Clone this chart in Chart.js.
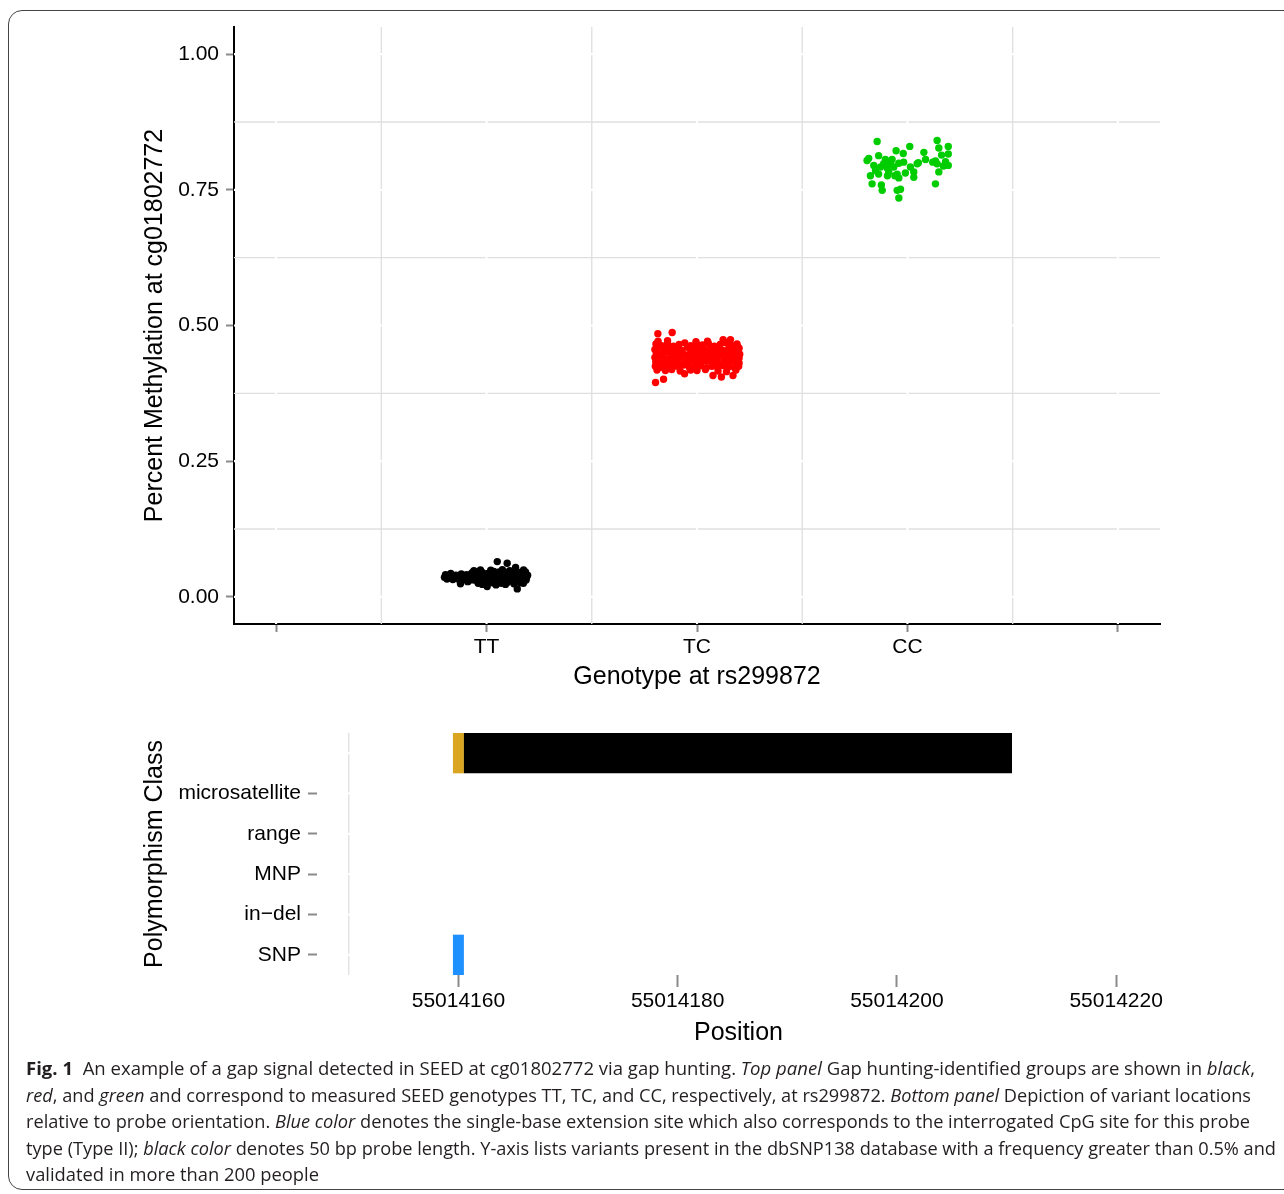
<!DOCTYPE html>
<html>
<head>
<meta charset="utf-8">
<script src="https://cdn.jsdelivr.net/npm/chart.js@4.4.1/dist/chart.umd.min.js"></script>
<style>
html,body{margin:0;padding:0;background:#fff;width:1284px;height:1194px;overflow:hidden;position:relative}
#frame{position:absolute;left:8px;top:10px;width:1320px;height:1180px;border:1px solid #444;border-radius:14px;box-sizing:border-box}
#top{position:absolute;left:0;top:0}
#bottom{position:absolute;left:0;top:700px}
#caption{position:absolute;left:26px;top:1055px;font-family:'Open Sans','Noto Sans',sans-serif;font-size:18.5px;line-height:26.5px;color:#231f20}
#caption .ln{white-space:nowrap;transform-origin:0 50%;display:block;width:max-content}
#caption b{font-weight:700}
</style>
</head>
<body>
<div id="frame"></div>
<canvas id="top" width="1284" height="700"></canvas>
<canvas id="bottom" width="1284" height="360"></canvas>
<div id="caption">
<div class="ln" data-w="1229"><b>Fig. 1</b>&nbsp;&nbsp;An example of a gap signal detected in SEED at cg01802772 via gap hunting. <i>Top panel</i> Gap hunting-identified groups are shown in <i>black</i>,</div>
<div class="ln" data-w="1225"><i>red</i>, and <i>green</i> and correspond to measured SEED genotypes TT, TC, and CC, respectively, at rs299872. <i>Bottom panel</i> Depiction of variant locations</div>
<div class="ln" data-w="1224">relative to probe orientation. <i>Blue color</i> denotes the single-base extension site which also corresponds to the interrogated CpG site for this probe</div>
<div class="ln" data-w="1250">type (Type II); <i>black color</i> denotes 50 bp probe length. Y-axis lists variants present in the dbSNP138 database with a frequency greater than 0.5% and</div>
<div class="ln" data-w="293">validated in more than 200 people</div>
</div>
<script>
// ---------------- DATA ----------------
const xCategories = ['', 'TT', 'TC', 'CC', ''];
const yTickValues = [0, 0.25, 0.5, 0.75, 1];

// TT group (black), x = TT index + jitter
const ttJitter = [
 -0.195,-0.17,-0.145,-0.12,-0.095,-0.07,-0.045,-0.02,0.005,0.03,0.055,0.08,0.105,0.13,0.155,0.18,0.195,
 -0.2,-0.178,-0.155,-0.13,-0.108,-0.083,-0.058,-0.033,-0.008,0.017,0.042,0.067,0.092,0.117,0.142,0.167,0.19,
 -0.188,-0.16,-0.135,-0.11,-0.085,-0.06,-0.035,-0.01,0.015,0.04,0.065,0.09,0.115,0.14,0.165,0.188,
 -0.09,-0.04,0.0,0.03,0.07,0.1,0.13,0.16,
 -0.029,0.051,0.098,0.138,0.176,0.146,0.003,-0.124,-0.06,0.02,0.075,0.11,
 0.035,0.06,0.125,0.185,-0.02,0.045,0.09,0.175
];
const ttValues = [
 0.041,0.043,0.040,0.042,0.041,0.044,0.042,0.045,0.043,0.041,0.044,0.042,0.046,0.043,0.045,0.042,0.040,
 0.036,0.035,0.037,0.034,0.036,0.035,0.037,0.036,0.034,0.037,0.035,0.036,0.034,0.037,0.035,0.036,0.035,
 0.033,0.032,0.033,0.032,0.029,0.031,0.030,0.028,0.031,0.029,0.030,0.028,0.031,0.029,0.030,0.031,
 0.028,0.025,0.024,0.026,0.025,0.027,0.024,0.026,
 0.0496,0.065,0.062,0.054,0.0496,0.0147,0.019,0.024,0.048,0.049,0.050,0.048,
 0.047,0.046,0.047,0.046,0.023,0.022,0.023,0.025
];

// TC group (red)
const tcJitter = [
 -0.195,-0.168,-0.14,-0.112,-0.085,-0.058,-0.03,-0.002,0.026,0.054,0.082,0.11,0.138,0.166,0.194,
 -0.2,-0.18,-0.153,-0.126,-0.1,-0.072,-0.045,-0.018,0.01,0.038,0.066,0.094,0.122,0.15,0.178,0.2,
 -0.193,-0.166,-0.139,-0.112,-0.085,-0.058,-0.031,-0.004,0.023,0.05,0.077,0.104,0.131,0.158,0.185,0.203,
 -0.2,-0.175,-0.148,-0.121,-0.094,-0.067,-0.04,-0.013,0.014,0.041,0.068,0.095,0.122,0.149,0.176,0.2,
 -0.196,-0.17,-0.143,-0.116,-0.089,-0.062,-0.035,-0.008,0.019,0.046,0.073,0.1,0.127,0.154,0.181,0.2,
 -0.198,-0.172,-0.145,-0.118,-0.091,-0.064,-0.037,-0.01,0.017,0.044,0.071,0.098,0.125,0.152,0.179,0.198,
 -0.19,-0.15,-0.12,-0.08,-0.03,0.0,0.04,0.1,0.14,0.185,
 -0.186,-0.118,0.124,0.159,-0.197,-0.159,-0.059,0.076,0.116,0.171,-0.185,-0.14,-0.005,0.05,0.19
];
const tcValues = [
 0.466,0.463,0.467,0.462,0.465,0.468,0.463,0.466,0.464,0.467,0.462,0.465,0.468,0.463,0.461,
 0.456,0.459,0.455,0.458,0.457,0.454,0.460,0.456,0.458,0.455,0.457,0.459,0.454,0.457,0.456,0.458,
 0.449,0.447,0.451,0.448,0.450,0.446,0.449,0.452,0.447,0.450,0.448,0.451,0.446,0.449,0.450,0.447,
 0.441,0.443,0.439,0.442,0.440,0.443,0.438,0.441,0.443,0.439,0.442,0.440,0.443,0.438,0.441,0.440,
 0.433,0.431,0.435,0.432,0.434,0.430,0.433,0.435,0.431,0.434,0.432,0.430,0.434,0.432,0.433,0.431,
 0.425,0.423,0.426,0.422,0.425,0.427,0.423,0.424,0.426,0.422,0.425,0.423,0.426,0.424,0.422,0.425,
 0.418,0.417,0.419,0.416,0.418,0.417,0.419,0.416,0.415,0.418,
 0.485,0.487,0.474,0.474,0.395,0.401,0.411,0.408,0.405,0.408,0.471,0.472,0.470,0.471,0.466
];

// CC group (green)
const ccJitter = [
 -0.144,0.011,0.141,-0.054,-0.020,0.078,0.194,0.149,0.194,0.162,
 -0.184,-0.137,-0.105,-0.073,-0.041,0.046,0.086,0.120,0.141,0.181,
 0.194,-0.192,-0.160,-0.128,-0.097,-0.065,0.014,0.030,-0.176,-0.137,
 -0.089,-0.049,-0.041,0.149,-0.168,-0.124,-0.120,0.133,-0.049,-0.033,
 -0.041,0.030,-0.152,-0.113,-0.081,-0.060,-0.018,0.133,0.171,0.052,
 -0.010,-0.095
];
const ccValues = [
 0.839,0.830,0.841,0.822,0.817,0.819,0.830,0.827,0.816,0.814,
 0.808,0.813,0.806,0.806,0.799,0.798,0.806,0.801,0.798,0.802,
 0.795,0.804,0.795,0.792,0.790,0.792,0.792,0.783,0.776,0.779,
 0.783,0.779,0.772,0.783,0.761,0.759,0.749,0.761,0.749,0.751,
 0.735,0.773,0.785,0.798,0.798,0.776,0.801,0.803,0.794,0.800,
 0.781,0.776
];

// Bottom panel
const polyClasses = ['', 'microsatellite', 'range', 'MNP', 'in\u2212del', 'SNP'];
const positionTicks = [55014160, 55014180, 55014200, 55014220];
const extensionSpan = [55014159.5, 55014160.5];
const probeSpan = [55014160.5, 55014210.5];
const snpSpan = [55014159.5, 55014160.5];

// ---------------- DRAWING ----------------
Chart.defaults.font.family = "'Liberation Sans', Arial, Helvetica, sans-serif";
Chart.defaults.color = '#000';

const tickGrey = '#8a8a8a';
const minorGrey = '#dfdfdf';

const ggGrid = {
  id: 'ggGrid',
  beforeDatasetsDraw(chart, args, opts) {
    const {ctx, chartArea: a, scales} = chart;
    const xs = scales.x, ys = scales.y;
    ctx.save();
    ctx.beginPath();
    ctx.rect(a.left, a.top, a.right - a.left, a.bottom - a.top);
    ctx.clip();
    const vLines = (vals, color, w) => {
      ctx.strokeStyle = color; ctx.lineWidth = w;
      (vals || []).forEach(v => { const p = xs.getPixelForValue(v); ctx.beginPath(); ctx.moveTo(p, a.top); ctx.lineTo(p, a.bottom); ctx.stroke(); });
    };
    const hLines = (vals, color, w) => {
      ctx.strokeStyle = color; ctx.lineWidth = w;
      (vals || []).forEach(v => { const p = ys.getPixelForValue(v); ctx.beginPath(); ctx.moveTo(a.left, p); ctx.lineTo(a.right, p); ctx.stroke(); });
    };
    vLines(opts.minorX, minorGrey, 1.3);
    hLines(opts.minorY, minorGrey, 1.3);
    vLines(opts.majorX, '#ffffff', 2.2);
    hLines(opts.majorY, '#ffffff', 2.2);
    ctx.restore();
  }
};

const pts = (idx, jit, vals) => vals.map((v, i) => ({x: idx + jit[i], y: v}));
const pointDs = (label, idx, jit, vals, col) => ({
  label, data: pts(idx, jit, vals),
  backgroundColor: col, borderColor: col, pointBackgroundColor: col, pointBorderColor: col,
  pointBorderWidth: 0, pointRadius: 3.7, pointHoverRadius: 3.7
});

new Chart(document.getElementById('top'), {
  type: 'scatter',
  data: { datasets: [
    pointDs('TT', xCategories.indexOf('TT'), ttJitter, ttValues, '#000000'),
    pointDs('TC', xCategories.indexOf('TC'), tcJitter, tcValues, '#FF0000'),
    pointDs('CC', xCategories.indexOf('CC'), ccJitter, ccValues, '#00CD00')
  ]},
  options: {
    responsive: false, animation: false, events: [],
    layout: { padding: { left: 136, right: 124, top: 27, bottom: 4 } },
    plugins: {
      legend: { display: false }, tooltip: { enabled: false },
      ggGrid: { minorX: [0.5, 1.5, 2.5, 3.5], minorY: [0.125, 0.375, 0.625, 0.875], majorX: [0, 1, 2, 3, 4], majorY: yTickValues }
    },
    scales: {
      x: {
        type: 'linear', min: -0.2, max: 4.2, z: 1,
        afterBuildTicks: s => { s.ticks = xCategories.map((_, i) => ({ value: i })); },
        afterFit: s => { s.height = 72; },
        ticks: { autoSkip: false, maxRotation: 0, minRotation: 0, padding: 3, font: { size: 21 }, color: '#000',
                 callback: v => xCategories[Math.round(v)] },
        grid: { display: true, drawOnChartArea: false, drawTicks: true, tickLength: 8, tickWidth: 2, tickColor: tickGrey, color: tickGrey },
        border: { display: true, color: '#000', width: 2 },
        title: { display: true, text: 'Genotype at rs299872', font: { size: 25 }, color: '#000', padding: { top: 4, bottom: 4 } }
      },
      y: {
        type: 'linear', min: -0.05, max: 1.05, z: 1,
        afterBuildTicks: s => { s.ticks = yTickValues.map(v => ({ value: v })); },
        afterFit: s => { s.width = 98; },
        ticks: { padding: 7, font: { size: 21 }, color: '#000', callback: v => Number(v).toFixed(2) },
        grid: { display: true, drawOnChartArea: false, drawTicks: true, tickLength: 8, tickWidth: 2, tickColor: tickGrey, color: tickGrey },
        border: { display: true, color: '#000', width: 2 },
        title: { display: true, text: 'Percent Methylation at cg01802772', font: { size: 25 }, color: '#000', padding: { top: 4, bottom: 4 } }
      }
    }
  },
  plugins: [ggGrid]
});

const rowData = (idx, span) => polyClasses.map((_, i) => i === idx ? span : null);

new Chart(document.getElementById('bottom'), {
  type: 'bar',
  data: {
    labels: polyClasses,
    datasets: [
      { label: 'probe', data: rowData(0, probeSpan), backgroundColor: '#000000' },
      { label: 'extension site', data: rowData(0, extensionSpan), backgroundColor: '#DAA520' },
      { label: 'SNP', data: rowData(polyClasses.indexOf('SNP'), snpSpan), backgroundColor: '#1E90FF' }
    ]
  },
  options: {
    indexAxis: 'y', responsive: false, animation: false, events: [],
    datasets: { bar: { grouped: false, barPercentage: 1, categoryPercentage: 1, borderWidth: 0, inflateAmount: 0 } },
    layout: { padding: { left: 136, right: 124, top: 33, bottom: 8 } },
    plugins: {
      legend: { display: false }, tooltip: { enabled: false },
      ggGrid: { minorX: [55014150], majorX: positionTicks, majorY: polyClasses.map((_, i) => i) }
    },
    scales: {
      x: {
        type: 'linear', min: 55014147.1, max: 55014224, z: 1,
        afterBuildTicks: s => { s.ticks = positionTicks.map(v => ({ value: v })); },
        afterFit: s => { s.height = 77; },
        ticks: { autoSkip: false, maxRotation: 0, padding: 2, font: { size: 21 }, color: '#000', callback: v => String(v) },
        grid: { display: true, drawOnChartArea: false, drawTicks: true, tickLength: 12, tickWidth: 2, tickColor: tickGrey, color: tickGrey },
        border: { display: false },
        title: { display: true, text: 'Position', font: { size: 25 }, color: '#000', padding: { top: 4, bottom: 4 } }
      },
      y: {
        type: 'category', offset: true, z: 1,
        afterFit: s => { s.width = 181; },
        ticks: { autoSkip: false, padding: 7, font: { size: 21 }, color: '#000' },
        grid: { display: true, offset: false, drawOnChartArea: false, drawTicks: true, tickLength: 9, tickWidth: 2,
                tickColor: c => (c.index === 0 ? 'rgba(0,0,0,0)' : tickGrey), color: 'rgba(0,0,0,0)' },
        border: { display: false },
        title: { display: true, text: 'Polymorphism Class', font: { size: 25 }, color: '#000', padding: { top: 4, bottom: 4 } }
      }
    }
  },
  plugins: [ggGrid]
});

// fit caption lines to the reference widths
function fitCaption() {
  document.querySelectorAll('#caption .ln').forEach(el => {
    el.style.transform = 'none';
    const w = el.getBoundingClientRect().width;
    const t = parseFloat(el.dataset.w);
    if (w > 0) el.style.transform = 'scaleX(' + (t / w) + ')';
  });
}
fitCaption();
if (document.fonts && document.fonts.ready) document.fonts.ready.then(fitCaption);
</script>
</body>
</html>
